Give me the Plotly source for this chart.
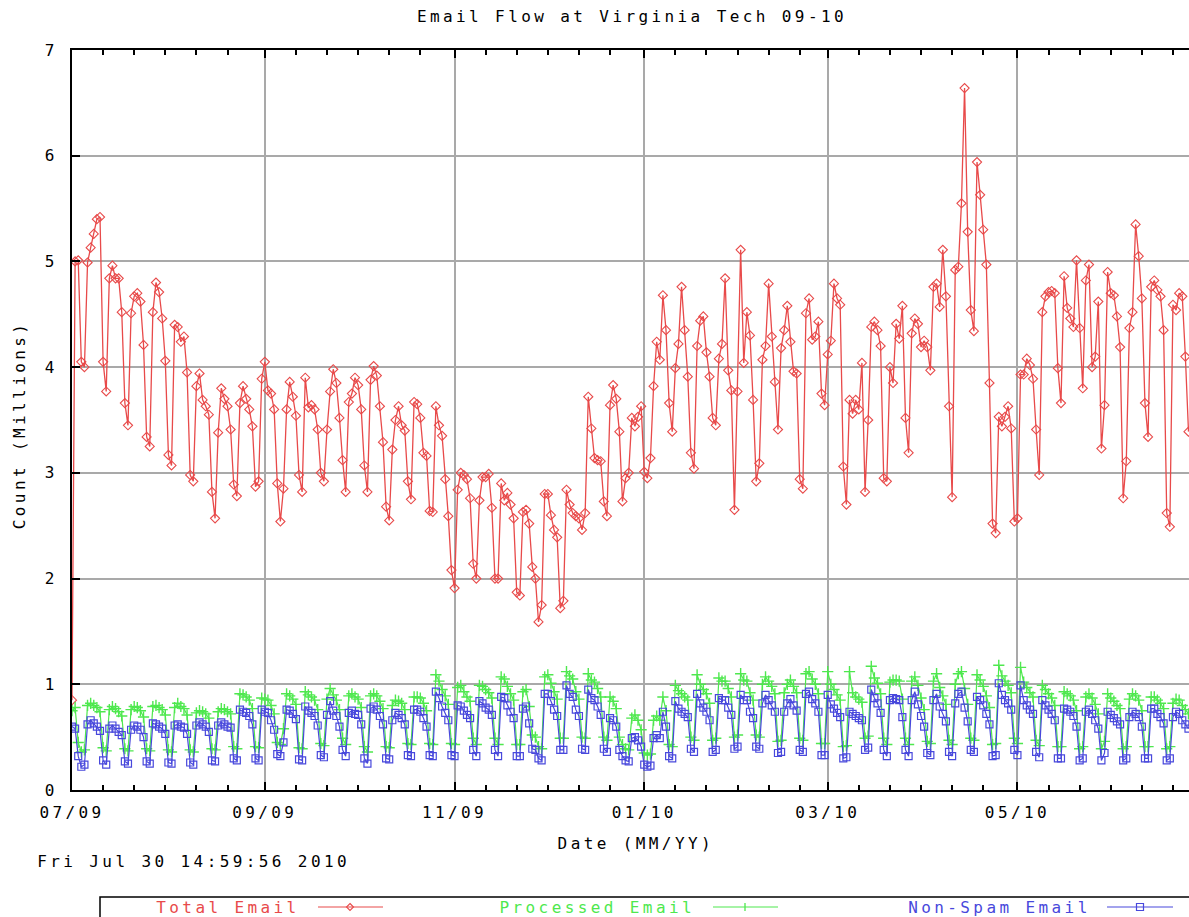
import pandas as pd
import plotly.graph_objects as go

# Daily counts in millions, one value per day starting 2009-07-01
start_date = "2009-07-01"

total_email = [
    0.85, 5.00, 5.01, 4.05, 4.00,
    4.99, 5.13, 5.26, 5.40, 5.42, 4.05, 3.77,
    4.84, 4.96, 4.84, 4.84, 4.52, 3.66, 3.45,
    4.51, 4.67, 4.70, 4.62, 4.21, 3.34, 3.25,
    4.52, 4.80, 4.71, 4.46, 4.06, 3.17, 3.07,
    4.40, 4.38, 4.24, 4.29, 3.95, 2.98, 2.92,
    3.82, 3.94, 3.69, 3.63, 3.55, 2.82, 2.57,
    3.38, 3.80, 3.70, 3.63, 3.41, 2.89, 2.78,
    3.66, 3.82, 3.70, 3.60, 3.44, 2.87, 2.92,
    3.89, 4.05, 3.78, 3.75, 3.60, 2.90, 2.54,
    2.85, 3.60, 3.86, 3.72, 3.54, 2.98, 2.82,
    3.90, 3.62, 3.64, 3.60, 3.41, 3.00, 2.92,
    3.41, 3.77, 3.98, 3.85, 3.52, 3.12, 2.82,
    3.67, 3.75, 3.90, 3.83, 3.60, 3.07, 2.82,
    3.88, 4.01, 3.92, 3.63, 3.29, 2.68, 2.55,
    3.22, 3.50, 3.63, 3.45, 3.40, 2.92, 2.75,
    3.67, 3.65, 3.52, 3.19, 3.16, 2.64, 2.63,
    3.63, 3.45, 3.35, 2.94, 2.59, 2.08, 1.91,
    2.84, 3.00, 2.98, 2.94, 2.76, 2.14, 2.00,
    2.74, 2.96, 2.96, 2.99, 2.67, 2.00, 2.00,
    2.90, 2.74, 2.81, 2.70, 2.57, 1.87, 1.84,
    2.63, 2.65, 2.52, 2.11, 2.00, 1.59, 1.75,
    2.80, 2.80, 2.60, 2.46, 2.39, 1.72, 1.79,
    2.84, 2.70, 2.62, 2.59, 2.57, 2.46, 2.62,
    3.72, 3.42, 3.14, 3.12, 3.11, 2.73, 2.59,
    3.64, 3.83, 3.70, 3.39, 2.73, 2.95, 3.00,
    3.52, 3.44, 3.53, 3.63, 3.01, 2.95, 3.14,
    3.82, 4.24, 4.07, 4.68, 4.35, 3.66, 3.39,
    3.99, 4.22, 4.76, 4.35, 3.91, 3.19, 3.04,
    4.20, 4.44, 4.48, 4.14, 3.91, 3.52, 3.45,
    4.08, 4.22, 4.84, 3.97, 3.78, 2.65, 3.77,
    5.11, 4.04, 4.52, 4.30, 3.69, 2.92, 3.09,
    4.07, 4.20, 4.79, 4.29, 3.86, 3.41, 4.18,
    4.35, 4.58, 4.24, 3.96, 3.94, 2.94, 2.85,
    4.51, 4.65, 4.26, 4.29, 4.43, 3.75, 3.64,
    4.12, 4.25, 4.79, 4.65, 4.59, 3.06, 2.70,
    3.69, 3.56, 3.69, 3.60, 4.04, 2.82, 3.50,
    4.38, 4.43, 4.35, 4.20, 2.95, 2.92,
    4.00, 3.85, 4.41, 4.27, 4.58, 3.52, 3.19,
    4.32, 4.46, 4.41, 4.19, 4.25, 4.19, 3.97,
    4.76, 4.79, 4.57, 5.11, 4.67, 3.63, 2.77,
    4.92, 4.95, 5.55, 6.64, 5.28, 4.54, 4.34,
    5.94, 5.63, 5.30, 4.97, 3.85, 2.52, 2.43,
    3.53, 3.44, 3.53, 3.63, 3.42, 2.54, 2.57,
    3.93, 3.93, 4.08, 4.02, 3.89, 3.41, 2.98,
    4.52, 4.67, 4.71, 4.72, 4.70, 3.99, 3.66,
    4.86, 4.56, 4.46, 4.38, 5.01, 4.37, 3.80,
    4.82, 4.97, 4.00, 4.10, 4.62, 3.23, 3.64,
    4.90, 4.70, 4.68, 4.48, 4.19, 2.76, 3.11,
    4.37, 4.52, 5.35, 5.05, 4.65, 3.66, 3.34,
    4.76, 4.82, 4.73, 4.67, 4.35, 2.62, 2.49,
    4.59, 4.54, 4.70, 4.67, 4.10, 3.39,
]

processed_email = [
    0.75, 0.78, 0.45, 0.36, 0.38,
    0.80, 0.82, 0.80, 0.78, 0.74, 0.40, 0.37,
    0.76, 0.79, 0.77, 0.74, 0.70, 0.39, 0.37,
    0.76, 0.79, 0.78, 0.75, 0.69, 0.39, 0.37,
    0.79, 0.80, 0.78, 0.76, 0.71, 0.38, 0.36,
    0.78, 0.82, 0.79, 0.77, 0.71, 0.38, 0.36,
    0.73, 0.75, 0.74, 0.72, 0.68, 0.39, 0.38,
    0.74, 0.77, 0.76, 0.74, 0.72, 0.41, 0.39,
    0.91, 0.90, 0.88, 0.85, 0.77, 0.41, 0.40,
    0.87, 0.86, 0.85, 0.80, 0.72, 0.45, 0.43,
    0.58, 0.91, 0.89, 0.86, 0.81, 0.40, 0.39,
    0.93, 0.90, 0.88, 0.85, 0.76, 0.44, 0.42,
    0.86, 0.96, 0.90, 0.85, 0.76, 0.49, 0.43,
    0.89, 0.91, 0.88, 0.86, 0.78, 0.41, 0.36,
    0.89, 0.91, 0.89, 0.84, 0.77, 0.41, 0.40,
    0.80, 0.85, 0.84, 0.82, 0.76, 0.44, 0.43,
    0.88, 0.88, 0.87, 0.82, 0.75, 0.44, 0.43,
    1.09, 1.03, 0.95, 0.89, 0.81, 0.44, 0.43,
    0.97, 0.99, 0.93, 0.88, 0.84, 0.49, 0.43,
    0.99, 0.98, 0.95, 0.92, 0.87, 0.49, 0.43,
    1.07, 1.05, 0.98, 0.91, 0.85, 0.43, 0.43,
    0.93, 0.95, 0.79, 0.52, 0.50, 0.41, 0.39,
    1.07, 1.09, 1.01, 0.93, 0.86, 0.49, 0.49,
    1.12, 1.08, 1.05, 0.93, 0.86, 0.50, 0.49,
    1.10, 1.04, 1.02, 0.96, 0.88, 0.50, 0.47,
    0.88, 0.84, 0.77, 0.50, 0.43, 0.39, 0.38,
    0.68, 0.71, 0.66, 0.57, 0.35, 0.33, 0.34,
    0.66, 0.70, 0.66, 0.88, 0.75, 0.43, 0.41,
    0.99, 0.94, 0.91, 0.88, 0.85, 0.50, 0.47,
    1.09, 1.00, 0.95, 0.91, 0.82, 0.47, 0.49,
    1.06, 1.03, 1.03, 0.96, 0.88, 0.50, 0.52,
    1.10, 1.04, 1.03, 0.92, 0.85, 0.52, 0.50,
    1.00, 1.07, 1.03, 0.98, 0.91, 0.46, 0.47,
    0.92, 1.00, 1.04, 0.98, 0.92, 0.49, 0.47,
    1.10, 1.12, 1.05, 1.00, 0.91, 0.44, 0.44,
    1.12, 1.00, 0.95, 0.90, 0.85, 0.41, 0.42,
    1.12, 0.92, 0.88, 0.86, 0.83, 0.49, 0.51,
    1.17, 1.06, 1.01, 0.91, 0.49, 0.43,
    1.02, 1.04, 1.04, 1.03, 0.86, 0.49, 0.43,
    1.03, 1.07, 0.99, 0.87, 0.76, 0.46, 0.44,
    1.03, 1.10, 0.97, 0.89, 0.81, 0.47, 0.43,
    1.00, 1.10, 1.12, 0.96, 0.81, 0.49, 0.47,
    1.09, 1.04, 0.98, 0.89, 0.78, 0.43, 0.44,
    1.18, 1.08, 1.03, 0.99, 0.92, 0.49, 0.44,
    1.16, 1.02, 0.97, 0.92, 0.88, 0.47, 0.42,
    0.99, 0.95, 0.91, 0.87, 0.80, 0.41, 0.41,
    0.93, 0.91, 0.89, 0.85, 0.75, 0.39, 0.41,
    0.88, 0.91, 0.87, 0.81, 0.72, 0.39, 0.46,
    0.91, 0.87, 0.84, 0.80, 0.77, 0.39, 0.41,
    0.86, 0.91, 0.89, 0.85, 0.75, 0.41, 0.41,
    0.88, 0.88, 0.85, 0.82, 0.77, 0.39, 0.41,
    0.82, 0.86, 0.85, 0.80, 0.76, 0.72,
]

non_spam_email = [
    0.60, 0.58, 0.32, 0.22, 0.24,
    0.62, 0.66, 0.63, 0.60, 0.56, 0.28, 0.24,
    0.58, 0.61, 0.58, 0.55, 0.52, 0.27, 0.25,
    0.57, 0.61, 0.60, 0.57, 0.50, 0.27, 0.25,
    0.63, 0.62, 0.60, 0.58, 0.53, 0.26, 0.25,
    0.61, 0.62, 0.60, 0.59, 0.53, 0.26, 0.24,
    0.61, 0.64, 0.62, 0.60, 0.55, 0.28, 0.27,
    0.61, 0.64, 0.62, 0.60, 0.59, 0.30, 0.28,
    0.76, 0.74, 0.73, 0.70, 0.62, 0.30, 0.28,
    0.76, 0.74, 0.73, 0.66, 0.57, 0.34, 0.32,
    0.45, 0.76, 0.75, 0.72, 0.67, 0.29, 0.28,
    0.79, 0.75, 0.73, 0.70, 0.61, 0.33, 0.31,
    0.71, 0.84, 0.75, 0.70, 0.60, 0.38, 0.32,
    0.73, 0.75, 0.72, 0.71, 0.62, 0.30, 0.25,
    0.77, 0.79, 0.76, 0.70, 0.62, 0.30, 0.29,
    0.66, 0.73, 0.71, 0.68, 0.62, 0.33, 0.32,
    0.76, 0.76, 0.74, 0.68, 0.60, 0.33, 0.32,
    0.93, 0.87, 0.79, 0.73, 0.66, 0.33, 0.32,
    0.80, 0.79, 0.75, 0.71, 0.68, 0.38, 0.32,
    0.84, 0.82, 0.78, 0.76, 0.71, 0.38, 0.32,
    0.88, 0.87, 0.80, 0.74, 0.68, 0.32, 0.32,
    0.77, 0.79, 0.63, 0.39, 0.38, 0.30, 0.28,
    0.91, 0.91, 0.84, 0.76, 0.70, 0.38, 0.38,
    0.99, 0.91, 0.88, 0.76, 0.70, 0.39, 0.38,
    0.95, 0.87, 0.85, 0.79, 0.71, 0.39, 0.36,
    0.68, 0.66, 0.60, 0.38, 0.32, 0.28, 0.27,
    0.49, 0.50, 0.47, 0.41, 0.24, 0.22, 0.23,
    0.49, 0.52, 0.49, 0.74, 0.60, 0.32, 0.30,
    0.84, 0.77, 0.74, 0.72, 0.69, 0.39, 0.36,
    0.91, 0.82, 0.78, 0.74, 0.66, 0.36, 0.38,
    0.87, 0.85, 0.85, 0.78, 0.71, 0.39, 0.41,
    0.90, 0.85, 0.85, 0.74, 0.68, 0.41, 0.39,
    0.82, 0.90, 0.85, 0.80, 0.74, 0.35, 0.36,
    0.74, 0.82, 0.86, 0.80, 0.75, 0.38, 0.36,
    0.91, 0.93, 0.86, 0.82, 0.74, 0.33, 0.33,
    0.90, 0.81, 0.77, 0.73, 0.69, 0.30, 0.31,
    0.74, 0.72, 0.70, 0.68, 0.66, 0.38, 0.40,
    0.95, 0.87, 0.82, 0.73, 0.38, 0.32,
    0.85, 0.87, 0.86, 0.85, 0.69, 0.38, 0.32,
    0.85, 0.93, 0.81, 0.70, 0.60, 0.35, 0.33,
    0.85, 0.91, 0.79, 0.72, 0.65, 0.36, 0.32,
    0.82, 0.91, 0.93, 0.78, 0.65, 0.38, 0.36,
    0.88, 0.85, 0.80, 0.72, 0.62, 0.32, 0.33,
    1.01, 0.90, 0.85, 0.82, 0.76, 0.38, 0.33,
    0.99, 0.85, 0.80, 0.76, 0.72, 0.36, 0.31,
    0.85, 0.80, 0.76, 0.72, 0.66, 0.30, 0.30,
    0.77, 0.76, 0.74, 0.70, 0.60, 0.28, 0.30,
    0.74, 0.76, 0.72, 0.66, 0.58, 0.28, 0.35,
    0.74, 0.71, 0.68, 0.65, 0.62, 0.28, 0.30,
    0.69, 0.74, 0.72, 0.69, 0.60, 0.30, 0.30,
    0.77, 0.77, 0.72, 0.69, 0.63, 0.28, 0.30,
    0.69, 0.74, 0.72, 0.66, 0.62, 0.58,
]

series_names = ["Total Email", "Processed Email", "Non-Spam Email"]
y_ticks = [0, 1, 2, 3, 4, 5, 6, 7]

dates = pd.date_range(start_date, periods=len(total_email), freq="D")

# Page geometry (pixels)
W, H = 1189, 917
ML, MT, MB, MR = 72, 50, 127, 0
PW = W - ML - MR
PH = H - MT - MB
PX_PER_DAY = 3.11


def px(x):
    return (x - ML) / PW


def py(y):
    return (H - MB - y) / PH


FONT = "DejaVu Sans Mono"
FS = 16
RED = "#e84a4a"
GREEN = "#4ee84e"
BLUE = "#4848dc"

x_start = pd.Timestamp(start_date)
x_end = x_start + pd.Timedelta(days=PW / PX_PER_DAY)

majors = pd.date_range(start_date, "2010-07-01", freq="2MS")
minors = [m + pd.Timedelta(days=10 * k) for m in majors for k in range(1, 6)]

fig = go.Figure()
fig.add_trace(go.Scatter(
    x=dates, y=total_email, name=series_names[0], mode="lines+markers",
    line=dict(color=RED, width=1.3),
    marker=dict(symbol="diamond-open", size=7, color=RED, line=dict(width=1.1)),
))
fig.add_trace(go.Scatter(
    x=dates, y=processed_email, name=series_names[1], mode="lines+markers",
    line=dict(color=GREEN, width=1.2),
    marker=dict(symbol="cross-thin-open", size=8, color=GREEN, line=dict(width=1.4, color=GREEN)),
))
fig.add_trace(go.Scatter(
    x=dates, y=non_spam_email, name=series_names[2], mode="lines+markers",
    line=dict(color=BLUE, width=1.2),
    marker=dict(symbol="square-open", size=7, color=BLUE, line=dict(width=1.2)),
))

tick_font = dict(family=FONT, size=FS, color="black")

fig.update_layout(
    width=W, height=H, autosize=False,
    margin=dict(l=ML, r=MR, t=MT, b=MB, pad=0),
    paper_bgcolor="white", plot_bgcolor="white",
    showlegend=False,
    font=dict(family=FONT, size=FS, color="black"),
    xaxis=dict(
        type="date", range=[x_start, x_end],
        tick0=start_date, dtick="M2", tickformat="%m/%y",
        ticks="inside", ticklen=8, tickwidth=1.5, tickcolor="black",
        showline=True, linecolor="black", linewidth=2, mirror="ticks",
        showgrid=True, gridcolor="#a9a9a9", gridwidth=1.5, zeroline=False,
        tickfont=tick_font, ticklabelstandoff=7,
        minor=dict(tickmode="array", tickvals=minors, ticks="inside",
                   ticklen=5, tickwidth=1.5, tickcolor="black", showgrid=False),
    ),
    yaxis=dict(
        range=[0, 7], tickvals=y_ticks, ticktext=[str(v) for v in y_ticks],
        ticks="inside", ticklen=8, tickwidth=1.5, tickcolor="black",
        showline=True, linecolor="black", linewidth=2, mirror=False,
        showgrid=True, gridcolor="#a9a9a9", gridwidth=1.5, zeroline=False,
        tickfont=tick_font, ticklabelstandoff=9,
    ),
)

annotations = [
    dict(text="Email Flow at Virginia Tech 09-10", x=px(632), y=py(17)),
    dict(text="Date (MM/YY)", x=px(636), y=py(843)),
    dict(text="Count (Millions)", x=px(19), y=py(425), textangle=-90),
    dict(text="Fri Jul 30 14:59:56 2010", x=px(193), y=py(862)),
    dict(text=series_names[0], x=px(228), y=py(907), font=dict(color=RED)),
    dict(text=series_names[1], x=px(597), y=py(907), font=dict(color=GREEN)),
    dict(text=series_names[2], x=px(999), y=py(907), font=dict(color=BLUE)),
]
for a in annotations:
    f = dict(family=FONT, size=FS, color="black")
    f.update(a.pop("font", {}))
    fig.add_annotation(xref="paper", yref="paper", xanchor="center", yanchor="middle",
                       showarrow=False, font=f, **a)

# Key box and line samples below the plot
shapes = [dict(type="rect", xref="paper", yref="paper",
               x0=px(100), x1=px(1300), y0=py(897), y1=py(960),
               line=dict(color="black", width=1.5))]
samples = [(318, 383, RED), (713, 778, GREEN), (1107, 1173, BLUE)]
for x0, x1, c in samples:
    shapes.append(dict(type="line", xref="paper", yref="paper",
                       x0=px(x0), x1=px(x1), y0=py(907), y1=py(907),
                       line=dict(color=c, width=1.2)))


def pth(points):
    return "M " + " L ".join(f"{px(a)},{py(b)}" for a, b in points) + " Z"


cx, cy = 350, 907
shapes.append(dict(type="path", xref="paper", yref="paper",
                   path=pth([(cx, cy - 3.5), (cx + 3.5, cy), (cx, cy + 3.5), (cx - 3.5, cy)]),
                   line=dict(color=RED, width=1.1)))
cx = 745
shapes.append(dict(type="line", xref="paper", yref="paper", x0=px(cx), x1=px(cx),
                   y0=py(cy - 4), y1=py(cy + 4), line=dict(color=GREEN, width=1.3)))
cx = 1140
shapes.append(dict(type="path", xref="paper", yref="paper",
                   path=pth([(cx - 3.5, cy - 3.5), (cx + 3.5, cy - 3.5), (cx + 3.5, cy + 3.5), (cx - 3.5, cy + 3.5)]),
                   line=dict(color=BLUE, width=1.2)))
fig.update_layout(shapes=shapes)

# Wide monospace lettering
css_js = ("var s=document.createElement('style');"
          "s.textContent='.main-svg text'+String.fromCharCode(123)+"
          "'letter-spacing:3.4px'+String.fromCharCode(125);"
          "document.head.appendChild(s);")

fig.write_html("out.html", post_script=css_js)
